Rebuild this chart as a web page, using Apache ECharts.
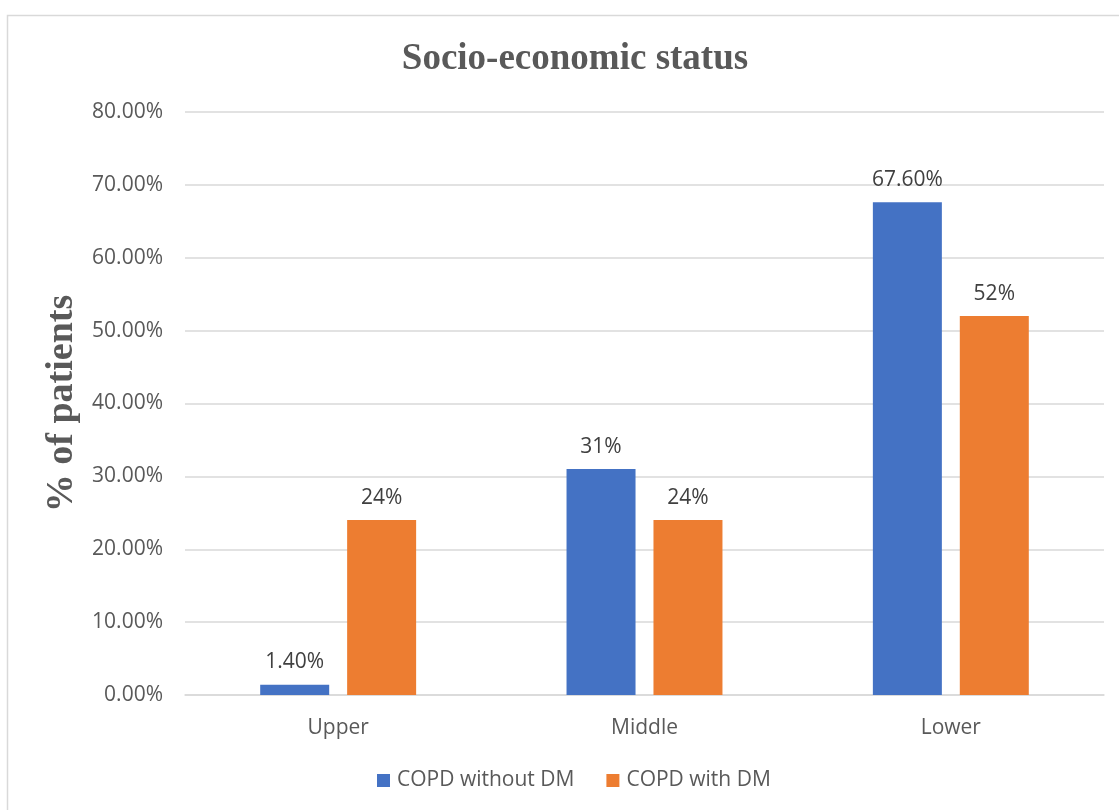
<!DOCTYPE html>
<html>
<head>
<meta charset="utf-8">
<style>html,body{margin:0;padding:0;background:#fff;}#c{width:1119px;height:810px;}</style>
<script src="https://cdn.jsdelivr.net/npm/echarts@6/dist/echarts.min.js"></script>
</head>
<body>
<div id="c"></div>
<script>
const categories = ['Upper', 'Middle', 'Lower'];
const withoutDM = [1.4, 31, 67.6];
const withDM = [24, 24, 52];
const withoutDMLabels = ['1.40%', '31%', '67.60%'];
const withDMLabels = ['24%', '24%', '52%'];
const seriesNames = ['COPD without DM', 'COPD with DM'];

const chart = echarts.init(document.getElementById('c'));
const sans = "'Open Sans', 'Liberation Sans', sans-serif";
const serif = "'Liberation Serif', 'DejaVu Serif', serif";
chart.setOption({
  animation: false,
  graphic: [{
    type: 'rect', shape: {x: 7.5, y: 15.5, width: 1130, height: 820},
    style: {fill: 'none', stroke: '#d9d9d9', lineWidth: 1.5}, silent: true
  }],
  title: {
    text: 'Socio-economic status', left: 570, top: 36, textAlign: 'center',
    textStyle: {fontFamily: serif, fontWeight: 'bold', fontSize: 37, color: '#595959'}
  },
  legend: {
    bottom: 14, left: 372, itemWidth: 13, itemHeight: 13, itemGap: 32,
    icon: 'rect',
    textStyle: {fontFamily: sans, fontSize: 21, color: '#595959', padding: [0, 0, 0, 2]},
    data: seriesNames
  },
  grid: {left: 185, right: 15, top: 112, bottom: 115},
  xAxis: {
    type: 'category', data: categories,
    axisTick: {show: false},
    axisLine: {lineStyle: {color: '#d9d9d9', width: 1.5}},
    axisLabel: {fontFamily: sans, fontSize: 21, color: '#595959', margin: 23}
  },
  yAxis: {
    type: 'value', min: 0, max: 80, interval: 10,
    name: '% of patients', nameLocation: 'middle', nameGap: 96,
    nameTextStyle: {fontFamily: serif, fontWeight: 'bold', fontSize: 38, color: '#595959'},
    axisLine: {show: false}, axisTick: {show: false},
    axisLabel: {fontFamily: sans, fontSize: 21, color: '#595959', margin: 22,
      formatter: v => v.toFixed(2) + '%'},
    splitLine: {lineStyle: {color: '#d9d9d9', width: 1.5}}
  },
  series: [
    {
      name: seriesNames[0], type: 'bar', data: withoutDM, barWidth: 69, barGap: '26%',
      itemStyle: {color: '#4472C4'},
      label: {show: true, position: 'top', distance: 12, fontFamily: sans, fontSize: 21, color: '#404040',
        formatter: p => withoutDMLabels[p.dataIndex]}
    },
    {
      name: seriesNames[1], type: 'bar', data: withDM, barWidth: 69,
      itemStyle: {color: '#ED7D31'},
      label: {show: true, position: 'top', distance: 12, fontFamily: sans, fontSize: 21, color: '#404040',
        formatter: p => withDMLabels[p.dataIndex]}
    }
  ]
});
</script>
</body>
</html>
